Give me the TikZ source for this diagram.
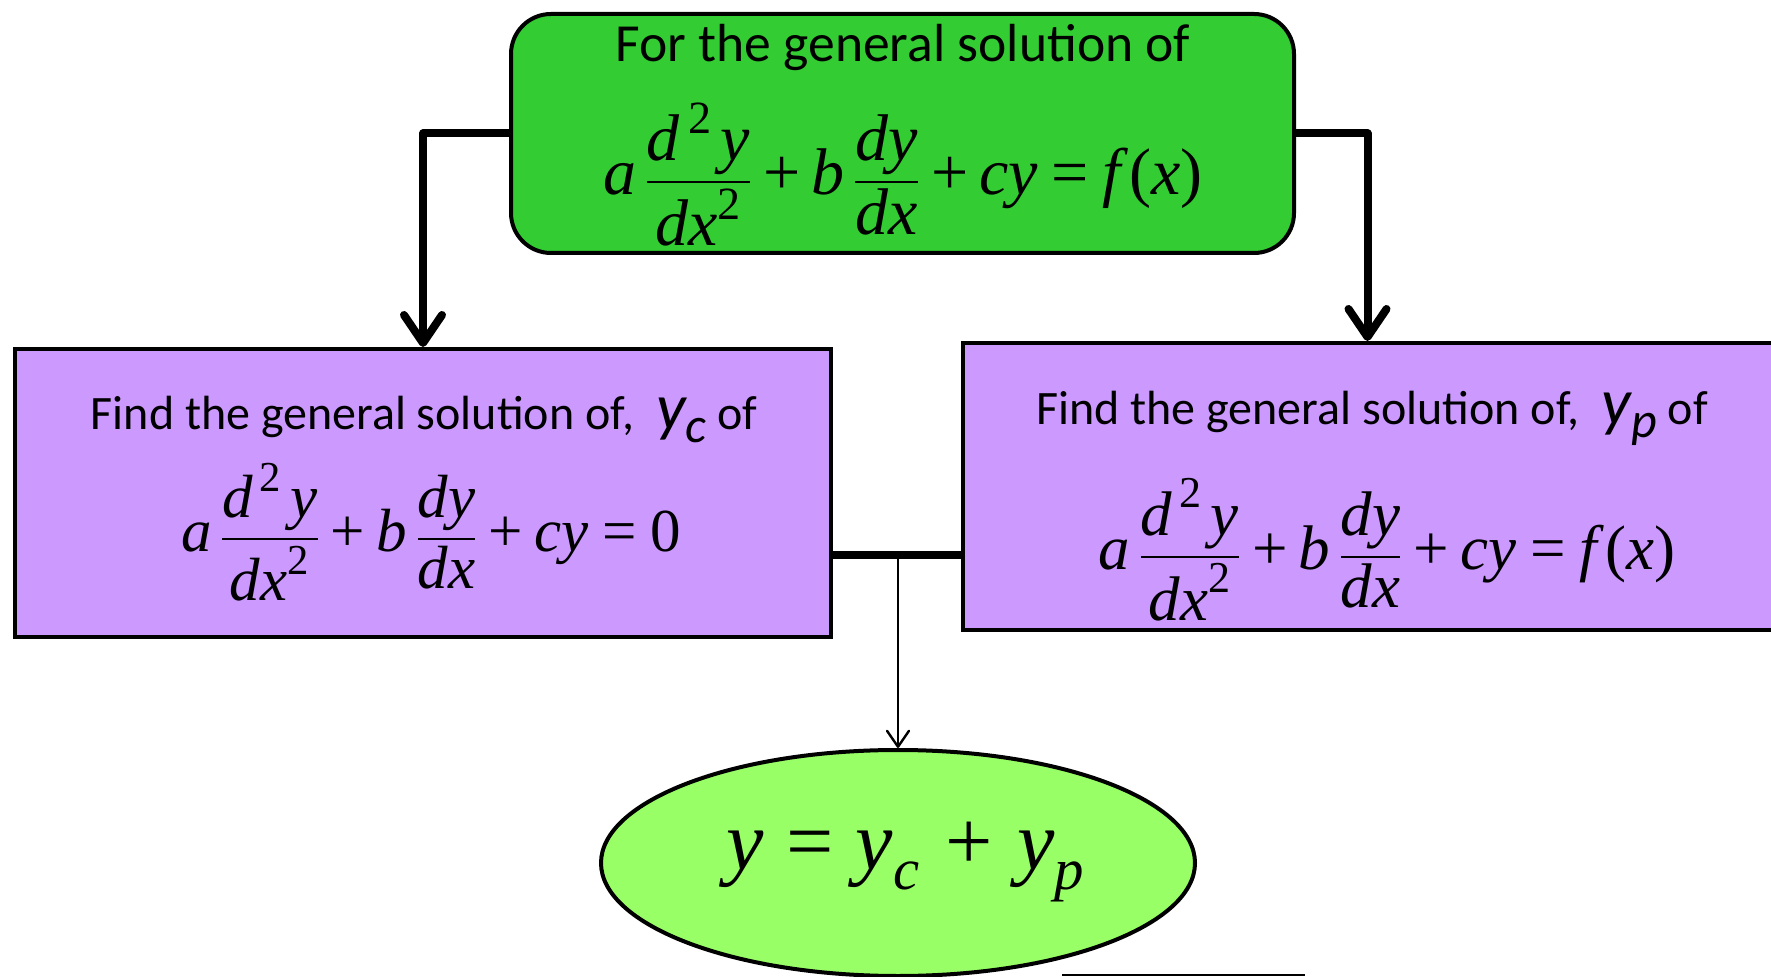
\documentclass[tikz,border=0pt]{standalone}
\usepackage{amsmath}
\usepackage{fontspec}
\setmainfont{Carlito}
\newfontfamily\tms{Liberation Serif}
\usetikzlibrary{arrows.meta,shapes.geometric}
\definecolor{topgreen}{HTML}{33CC33}
\definecolor{boxpurple}{HTML}{CC99FF}
\definecolor{ellgreen}{HTML}{99FF66}
\newcommand{\ti}[1]{\text{\tms\itshape #1}}
\newcommand{\tu}[1]{\text{\tms #1}}
\newcommand{\tplus}{\mathbin{\tu{+}}}
\newcommand{\teq}{\mathrel{\tu{=}}}
\newcommand{\odelhs}{\ti{a}\,\dfrac{\ti{d}^{\,\tu{2}}\,\ti{y}}{\ti{dx}^{\tu{2}}}\tplus\ti{b}\,\dfrac{\ti{dy}}{\ti{dx}}\tplus\ti{cy}}
\newcommand{\fx}{\ti{f}\,\tu{(}\ti{x}\tu{)}}
\tikzset{
  box/.style={draw=black, line width=2pt, inner sep=0pt},
  thickconn/.style={line width=4pt, line join=round, -{Straight Barb[length=14pt,width=19pt,round]}},
  thickline/.style={line width=4pt},
  thinconn/.style={line width=1.2pt, -{Straight Barb[length=8pt,width=11pt,round]}},
  toplbl/.style={inner sep=0pt, font=\fontsize{26.8}{30}\selectfont},
  lbl/.style={inner sep=0pt, font=\fontsize{24}{30}\selectfont},
  eq/.style={inner sep=0pt, font=\fontsize{33}{38}\selectfont}
}
\newcommand{\ysub}[1]{{\fontsize{33}{36}\selectfont\itshape y\raisebox{-0.4ex}{\fontsize{25}{25}\selectfont #1}}}
\begin{document}
\begin{tikzpicture}[x=0.5pt,y=-0.5pt]
\clip (0,0) rectangle (1771,977);
\fill[white] (0,0) rectangle (1771,977);
% boxes
\node[box, fill=topgreen, rounded corners=20pt, minimum width=391.5pt, minimum height=119.5pt] (top) at (902.5,133.5) {};
\node[box, fill=boxpurple, minimum width=408pt, minimum height=144pt] (left) at (423,493) {};
\node[box, fill=boxpurple, minimum width=405pt, minimum height=143.5pt] (right) at (1367.5,486.5) {};
\node[box, fill=ellgreen, ellipse, minimum width=297pt, minimum height=113pt] (res) at (898,863) {};
% texts
\node[toplbl, anchor=base] (toptext) at (903,62) {For the general solution of};
\node[eq] (topeq) at (903,175) {$\odelhs \teq \fx$};
\node[lbl, anchor=base] (ltext) at (424,430) {Find the general solution of,\ \ \ysub{c} of};
\node[eq, font=\fontsize{30.5}{36}\selectfont] (leq) at (431,532) {$\odelhs\teq\tu{0}$};
\node[lbl, anchor=base] (rtext) at (1372,425) {Find the general solution of,\ \ \ysub{p} of};
\node[eq, font=\fontsize{31.5}{36}\selectfont] (req) at (1387,550) {$\odelhs \teq \fx$};
\node[inner sep=0pt, font=\fontsize{42}{50}\selectfont] (restext) at (906,862) {$\ti{y}\,\teq\,\ti{y}_{\ti{c}}\;\tplus\;\ti{y}_{\ti{p}}$};
% connectors
\draw[thickconn] (top.west) -| (left.north);
\draw[thickconn] (top.east) -| (right.north);
\coordinate (mid) at (898,555);
\draw[thickline] (left.east |- mid) -- (right.west |- mid);
\draw[thinconn] (mid) -- (res.north);
\coordinate (s1) at (1062,975);
\coordinate (s2) at (1305,975);
\draw[line width=1pt] (s1) -- (s2);
\end{tikzpicture}
\end{document}
